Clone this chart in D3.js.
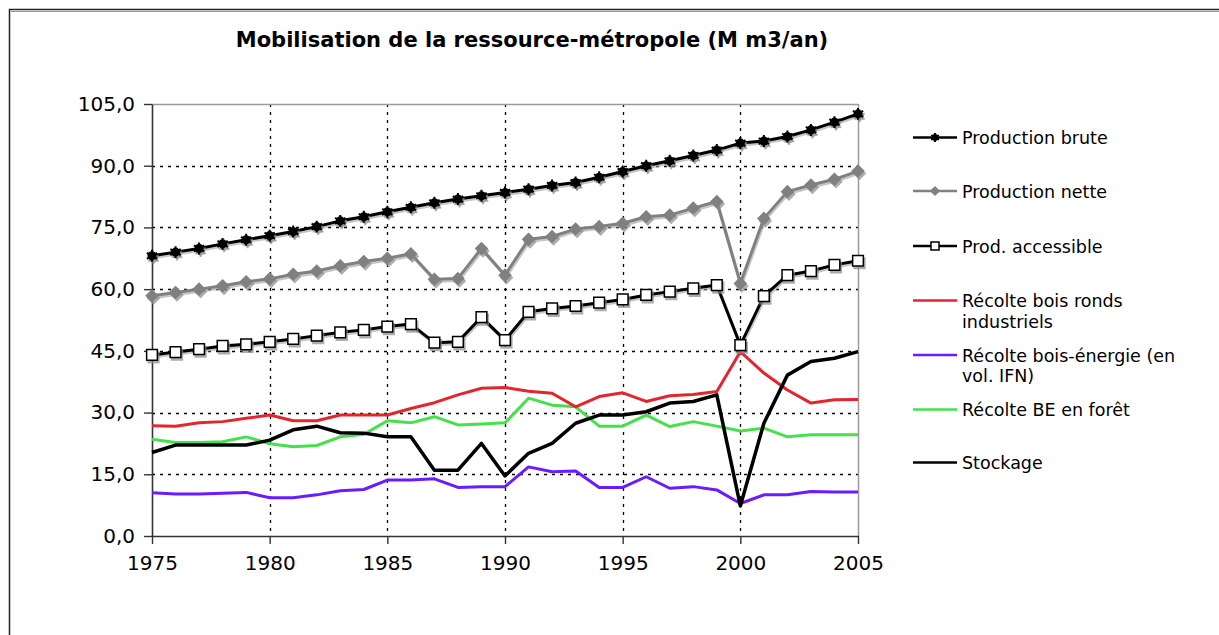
<!DOCTYPE html>
<html>
<head>
<meta charset="utf-8">
<script src="https://cdn.jsdelivr.net/npm/d3@7"></script>
<style>
  html, body { margin: 0; padding: 0; background: #fff; }
  svg { display: block; }
  text { font-family: "DejaVu Sans", Verdana, sans-serif; fill: #000; }
</style>
</head>
<body>
<svg id="chart" width="1219" height="635"></svg>
<script>
const years = [1975,1976,1977,1978,1979,1980,1981,1982,1983,1984,1985,1986,1987,1988,1989,1990,
               1991,1992,1993,1994,1995,1996,1997,1998,1999,2000,2001,2002,2003,2004,2005];
const xTicks = [1975,1980,1985,1990,1995,2000,2005];
const yTicks = [0,15,30,45,60,75,90,105];

const prodBrute = [68.1,69.0,69.9,71.0,72.0,73.0,74.0,75.2,76.6,77.6,78.8,79.9,81.0,81.9,82.7,83.5,
                   84.3,85.2,85.9,87.2,88.6,90.0,91.2,92.5,93.8,95.5,96.0,97.1,98.7,100.6,102.6];
const prodNette = [58.4,59.2,60.0,60.8,61.8,62.5,63.6,64.4,65.7,66.7,67.5,68.6,62.4,62.6,69.9,63.4,
                   72.1,72.8,74.6,75.2,76.0,77.6,78.0,79.7,81.3,61.4,77.2,83.7,85.3,86.7,88.7];
const prodAccessible = [44.0,44.7,45.4,46.2,46.6,47.2,47.9,48.7,49.5,50.1,50.9,51.5,47.0,47.2,53.2,47.6,
                        54.5,55.3,55.9,56.7,57.5,58.6,59.4,60.2,61.0,46.4,58.3,63.4,64.4,65.9,66.9];
const recolteBRI = [26.8,26.7,27.5,27.8,28.6,29.4,28.0,28.0,29.4,29.4,29.4,31.0,32.4,34.3,35.9,36.1,
                    35.2,34.7,31.4,33.9,34.8,32.7,34.1,34.4,35.1,44.8,39.6,35.5,32.3,33.1,33.2];
const recolteBE = [10.5,10.2,10.2,10.4,10.6,9.3,9.3,10.0,11.0,11.3,13.6,13.6,13.9,11.8,12.0,12.0,
                   16.8,15.6,15.8,11.8,11.8,14.4,11.6,12.0,11.2,7.9,10.0,10.0,10.8,10.7,10.7];
const recolteBEForet = [23.5,22.7,22.7,22.9,24.1,22.4,21.7,22.0,24.1,24.7,28.0,27.5,29.0,27.0,27.2,27.5,
                        33.5,31.8,31.4,26.7,26.7,29.4,26.6,27.8,26.7,25.5,26.2,24.1,24.6,24.6,24.6];
const stockage = [20.3,22.1,22.1,22.1,22.1,23.3,25.8,26.7,25.1,25.0,24.1,24.1,16.0,16.0,22.5,14.6,
                  20.1,22.5,27.4,29.4,29.4,30.2,32.3,32.7,34.3,7.3,27.4,39.1,42.4,43.2,44.8];

const seriesNames = ["Production brute","Production nette","Prod. accessible",
  "Récolte bois ronds industriels","Récolte bois-énergie (en vol. IFN)","Récolte BE en forêt","Stockage"];
const legendLines = [["Production brute"],["Production nette"],["Prod. accessible"],
  ["Récolte bois ronds","industriels"],["Récolte bois-énergie (en","vol. IFN)"],["Récolte BE en forêt"],["Stockage"]];

const series = [
  {name: seriesNames[0], values: prodBrute, color:"#000", width:3, marker:"star"},
  {name: seriesNames[1], values: prodNette, color:"#808080", width:3, marker:"diamond"},
  {name: seriesNames[2], values: prodAccessible, color:"#000", width:3, marker:"square"},
  {name: seriesNames[3], values: recolteBRI, color:"#e3262e", width:3, marker:null},
  {name: seriesNames[4], values: recolteBE, color:"#6a1cff", width:3, marker:null},
  {name: seriesNames[5], values: recolteBEForet, color:"#46e04c", width:3, marker:null},
  {name: seriesNames[6], values: stockage, color:"#000", width:3.5, marker:null}
];

const svg = d3.select("#chart");
const L = 152, R = 858, T = 104, B = 536;
const x = d3.scaleLinear().domain([1975,2005]).range([L,R]);
const y = d3.scaleLinear().domain([0,105]).range([B,T]);

// outer frame
svg.append("rect").attr("x",9.5).attr("y",9.5).attr("width",1300).attr("height",700)
  .attr("fill","none").attr("stroke","#222").attr("stroke-width",1.5);
svg.append("line").attr("x1",11).attr("x2",1219).attr("y1",11.5).attr("y2",11.5)
  .attr("stroke","#999").attr("stroke-width",1);

// title
svg.append("text").attr("x",532).attr("y",47).attr("text-anchor","middle")
  .attr("font-weight","bold").attr("font-size",21)
  .text("Mobilisation de la ressource-métropole (M m3/an)");

// grid
const grid = svg.append("g");
grid.selectAll(".hg").data(yTicks.filter(d => d>0 && d<105)).join("line")
  .attr("x1",L).attr("x2",R).attr("y1",d=>Math.round(y(d))+0.5).attr("y2",d=>Math.round(y(d))+0.5)
  .attr("stroke","#000").attr("stroke-width",1.3).attr("stroke-dasharray","3,5");
grid.selectAll(".vg").data(xTicks.filter(d => d>1975 && d<2005)).join("line")
  .attr("y1",T).attr("y2",B).attr("x1",d=>Math.round(x(d))+0.5).attr("x2",d=>Math.round(x(d))+0.5)
  .attr("stroke","#000").attr("stroke-width",1.3).attr("stroke-dasharray","3,5");

// plot border top/right
svg.append("line").attr("x1",L).attr("x2",R).attr("y1",T+0.5).attr("y2",T+0.5).attr("stroke","#9a9a9a").attr("stroke-width",1.5);
svg.append("line").attr("x1",R+0.5).attr("x2",R+0.5).attr("y1",T).attr("y2",B).attr("stroke","#9a9a9a").attr("stroke-width",1.5);

// axes
const fmt = d => d3.format(".1f")(d).replace(".", ",");
const yAxis = svg.append("g").attr("transform",`translate(${L},0)`)
  .call(d3.axisLeft(y).tickValues(yTicks).tickFormat(fmt).tickSizeInner(8).tickSizeOuter(0).tickPadding(9));
const xAxis = svg.append("g").attr("transform",`translate(0,${B})`)
  .call(d3.axisBottom(x).tickValues(xTicks).tickFormat(d3.format("d")).tickSizeInner(8).tickSizeOuter(0).tickPadding(12));
[yAxis, xAxis].forEach(a => {
  a.select(".domain").attr("stroke","#333").attr("stroke-width",1.6);
  a.selectAll(".tick line").attr("stroke","#333").attr("stroke-width",1.4);
  a.selectAll(".tick text").attr("font-size",20).attr("font-family","DejaVu Sans, Verdana, sans-serif").attr("fill","#111");
});

// marker drawing
function drawMarker(g, kind, cx, cy, color, scale, shadow) {
  const k = scale;
  const fillCol = shadow ? "#8a8a8a" : color;
  if (kind === "star") {
    g.append("path").attr("d", d3.symbol().type(d3.symbolCircle).size(65*k*k)())
      .attr("transform",`translate(${cx},${cy})`).attr("fill",fillCol).attr("opacity", shadow?0.7:1);
    g.append("path").attr("d", d3.symbol().type(d3.symbolAsterisk).size(100*k*k)())
      .attr("transform",`translate(${cx},${cy})`).attr("fill","none")
      .attr("stroke",fillCol).attr("stroke-width",2).attr("opacity", shadow?0.7:1);
  } else if (kind === "diamond") {
    g.append("path").attr("d", d3.symbol().type(d3.symbolSquare).size(92*k*k)())
      .attr("transform",`translate(${cx},${cy}) rotate(45)`).attr("fill",fillCol).attr("opacity", shadow?0.7:1);
  } else {
    g.append("path").attr("d", d3.symbol().type(d3.symbolSquare).size(115*k*k)())
      .attr("transform",`translate(${cx},${cy})`)
      .attr("fill", shadow ? "#8a8a8a" : "#fff")
      .attr("stroke", shadow ? "#8a8a8a" : "#000").attr("stroke-width",1.5).attr("opacity", shadow?0.7:1);
  }
}

const line = d3.line().x((d,i)=>x(years[i])).y(d=>y(d));
const order = [5,3,4,6,2,1,0];
order.forEach(si => {
  const s = series[si];
  const g = svg.append("g");
  if (s.marker) {
    g.append("path").attr("d", line(s.values)).attr("fill","none")
      .attr("stroke","#a0a0a0").attr("stroke-width",s.width).attr("transform","translate(1,2)").attr("opacity",0.6);
  }
  g.append("path").attr("d", line(s.values)).attr("fill","none")
    .attr("stroke",s.color).attr("stroke-width",s.width).attr("stroke-linejoin","round");
  if (s.marker) {
    s.values.forEach((v,i) => drawMarker(g, s.marker, x(years[i])+1.5, y(v)+2.5, s.color, 1, true));
    s.values.forEach((v,i) => drawMarker(g, s.marker, x(years[i]), y(v), s.color, 1, false));
  }
});

// legend
const legendY = [137.5, 191, 246, 300.5, 355, 409.5, 462.5];
const lg = svg.append("g");
series.forEach((s,i) => {
  const ly = legendY[i];
  lg.append("line").attr("x1",913).attr("x2",957).attr("y1",ly).attr("y2",ly)
    .attr("stroke",s.color).attr("stroke-width",2.5);
  if (s.marker) drawMarker(lg, s.marker, 935, ly, s.color, 0.75, false);
  const t = lg.append("text").attr("x",962).attr("y",ly+6.5).attr("font-size",17.5).attr("fill","#111");
  legendLines[i].forEach((ln,j) => {
    t.append("tspan").attr("x",962).attr("dy", j===0 ? 0 : 20.5).text(ln);
  });
});
</script>
</body>
</html>
